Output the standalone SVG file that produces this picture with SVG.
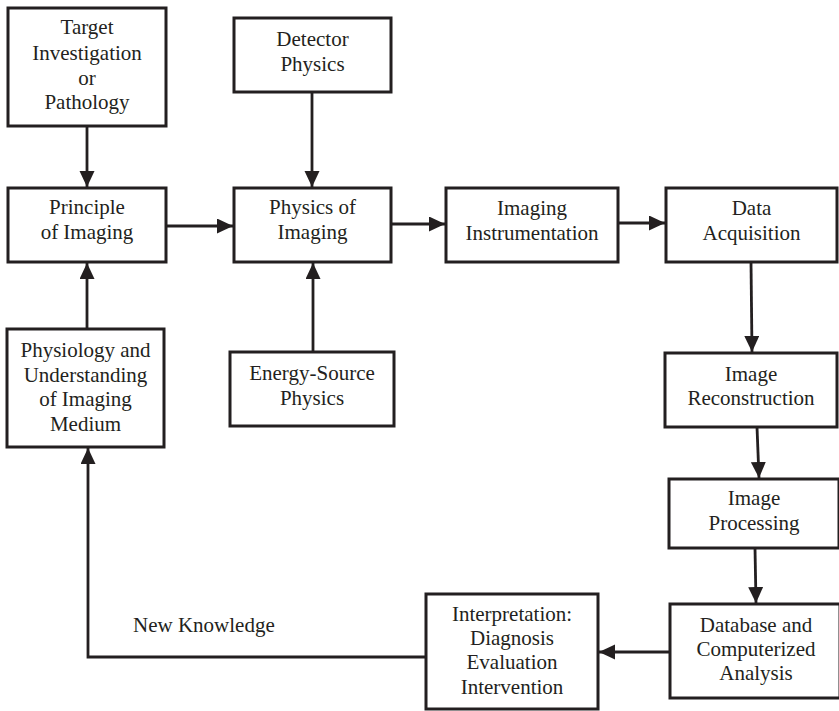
<svg xmlns="http://www.w3.org/2000/svg" width="839" height="711" viewBox="0 0 839 711">
<style>
.box{fill:#fff;stroke:#231f20;stroke-width:3}
.lbl{font-family:'Liberation Serif','Tinos','Times New Roman','DejaVu Serif',serif;font-size:21px;fill:#231f20;text-anchor:middle}
.free{text-anchor:start}
.con{fill:none;stroke:#231f20;stroke-width:2.8}
</style>
<defs>
<marker id="ah" markerUnits="userSpaceOnUse" markerWidth="17" markerHeight="16" refX="16" refY="7.5" orient="auto">
<path d="M0,0 L16,7.5 L0,15 z" fill="#231f20"/>
</marker>
</defs>
<rect width="839" height="711" fill="#fff"/>
<g id="connectors">
<line class="con" x1="87" y1="126" x2="87" y2="187" marker-end="url(#ah)"/>
<line class="con" x1="312" y1="92" x2="312" y2="187" marker-end="url(#ah)"/>
<line class="con" x1="313" y1="352" x2="313" y2="263" marker-end="url(#ah)"/>
<line class="con" x1="166" y1="226" x2="233" y2="226" marker-end="url(#ah)"/>
<line class="con" x1="391" y1="224" x2="445" y2="224" marker-end="url(#ah)"/>
<line class="con" x1="618" y1="223" x2="665" y2="223" marker-end="url(#ah)"/>
<line class="con" x1="751" y1="262" x2="752" y2="352" marker-end="url(#ah)"/>
<line class="con" x1="757" y1="427" x2="759" y2="478" marker-end="url(#ah)"/>
<line class="con" x1="755" y1="548" x2="756" y2="603" marker-end="url(#ah)"/>
<line class="con" x1="670" y1="652" x2="599" y2="652" marker-end="url(#ah)"/>
<polyline class="con" points="426,657 88,657 88,448" marker-end="url(#ah)"/>
<line class="con" x1="87" y1="329" x2="87" y2="263" marker-end="url(#ah)"/>
<text class="lbl free" x="133" y="632" font-family="Liberation Serif, serif">New Knowledge</text>
</g>
<g id="target">
<rect class="box" x="8" y="8" width="158" height="118"/>
<text class="lbl" x="87" y="34">Target</text>
<text class="lbl" x="87" y="60">Investigation</text>
<text class="lbl" x="87" y="85">or</text>
<text class="lbl" x="87" y="109">Pathology</text>
</g>
<g id="detector">
<rect class="box" x="234" y="18" width="157" height="74"/>
<text class="lbl" x="312.5" y="46">Detector</text>
<text class="lbl" x="312.5" y="71">Physics</text>
</g>
<g id="principle">
<rect class="box" x="8" y="188" width="158" height="74"/>
<text class="lbl" x="87" y="214">Principle</text>
<text class="lbl" x="87" y="239">of Imaging</text>
</g>
<g id="physics">
<rect class="box" x="234" y="188" width="157" height="74"/>
<text class="lbl" x="312.5" y="214">Physics of</text>
<text class="lbl" x="312.5" y="239">Imaging</text>
</g>
<g id="instrumentation">
<rect class="box" x="446" y="188" width="172" height="74"/>
<text class="lbl" x="532" y="215">Imaging</text>
<text class="lbl" x="532" y="240">Instrumentation</text>
</g>
<g id="data">
<rect class="box" x="666" y="188" width="171" height="74"/>
<text class="lbl" x="751.5" y="215">Data</text>
<text class="lbl" x="751.5" y="240">Acquisition</text>
</g>
<g id="physiology">
<rect class="box" x="7" y="329" width="157" height="118"/>
<text class="lbl" x="85.5" y="357">Physiology and</text>
<text class="lbl" x="85.5" y="382">Understanding</text>
<text class="lbl" x="85.5" y="406">of Imaging</text>
<text class="lbl" x="85.5" y="431">Medium</text>
</g>
<g id="energy">
<rect class="box" x="230" y="352" width="164" height="74"/>
<text class="lbl" x="312" y="380">Energy-Source</text>
<text class="lbl" x="312" y="405">Physics</text>
</g>
<g id="reconstruction">
<rect class="box" x="665" y="353" width="172" height="74"/>
<text class="lbl" x="751" y="381">Image</text>
<text class="lbl" x="751" y="405">Reconstruction</text>
</g>
<g id="processing">
<rect class="box" x="669" y="479" width="170" height="69"/>
<text class="lbl" x="754" y="505">Image</text>
<text class="lbl" x="754" y="530">Processing</text>
</g>
<g id="database">
<rect class="box" x="670" y="604" width="170" height="94"/>
<text class="lbl" x="756" y="632">Database and</text>
<text class="lbl" x="756" y="656">Computerized</text>
<text class="lbl" x="756" y="680">Analysis</text>
</g>
<g id="interpretation">
<rect class="box" x="426" y="594" width="172" height="115"/>
<text class="lbl" x="512" y="621">Interpretation:</text>
<text class="lbl" x="512" y="645">Diagnosis</text>
<text class="lbl" x="512" y="669">Evaluation</text>
<text class="lbl" x="512" y="694">Intervention</text>
</g>
</svg>
